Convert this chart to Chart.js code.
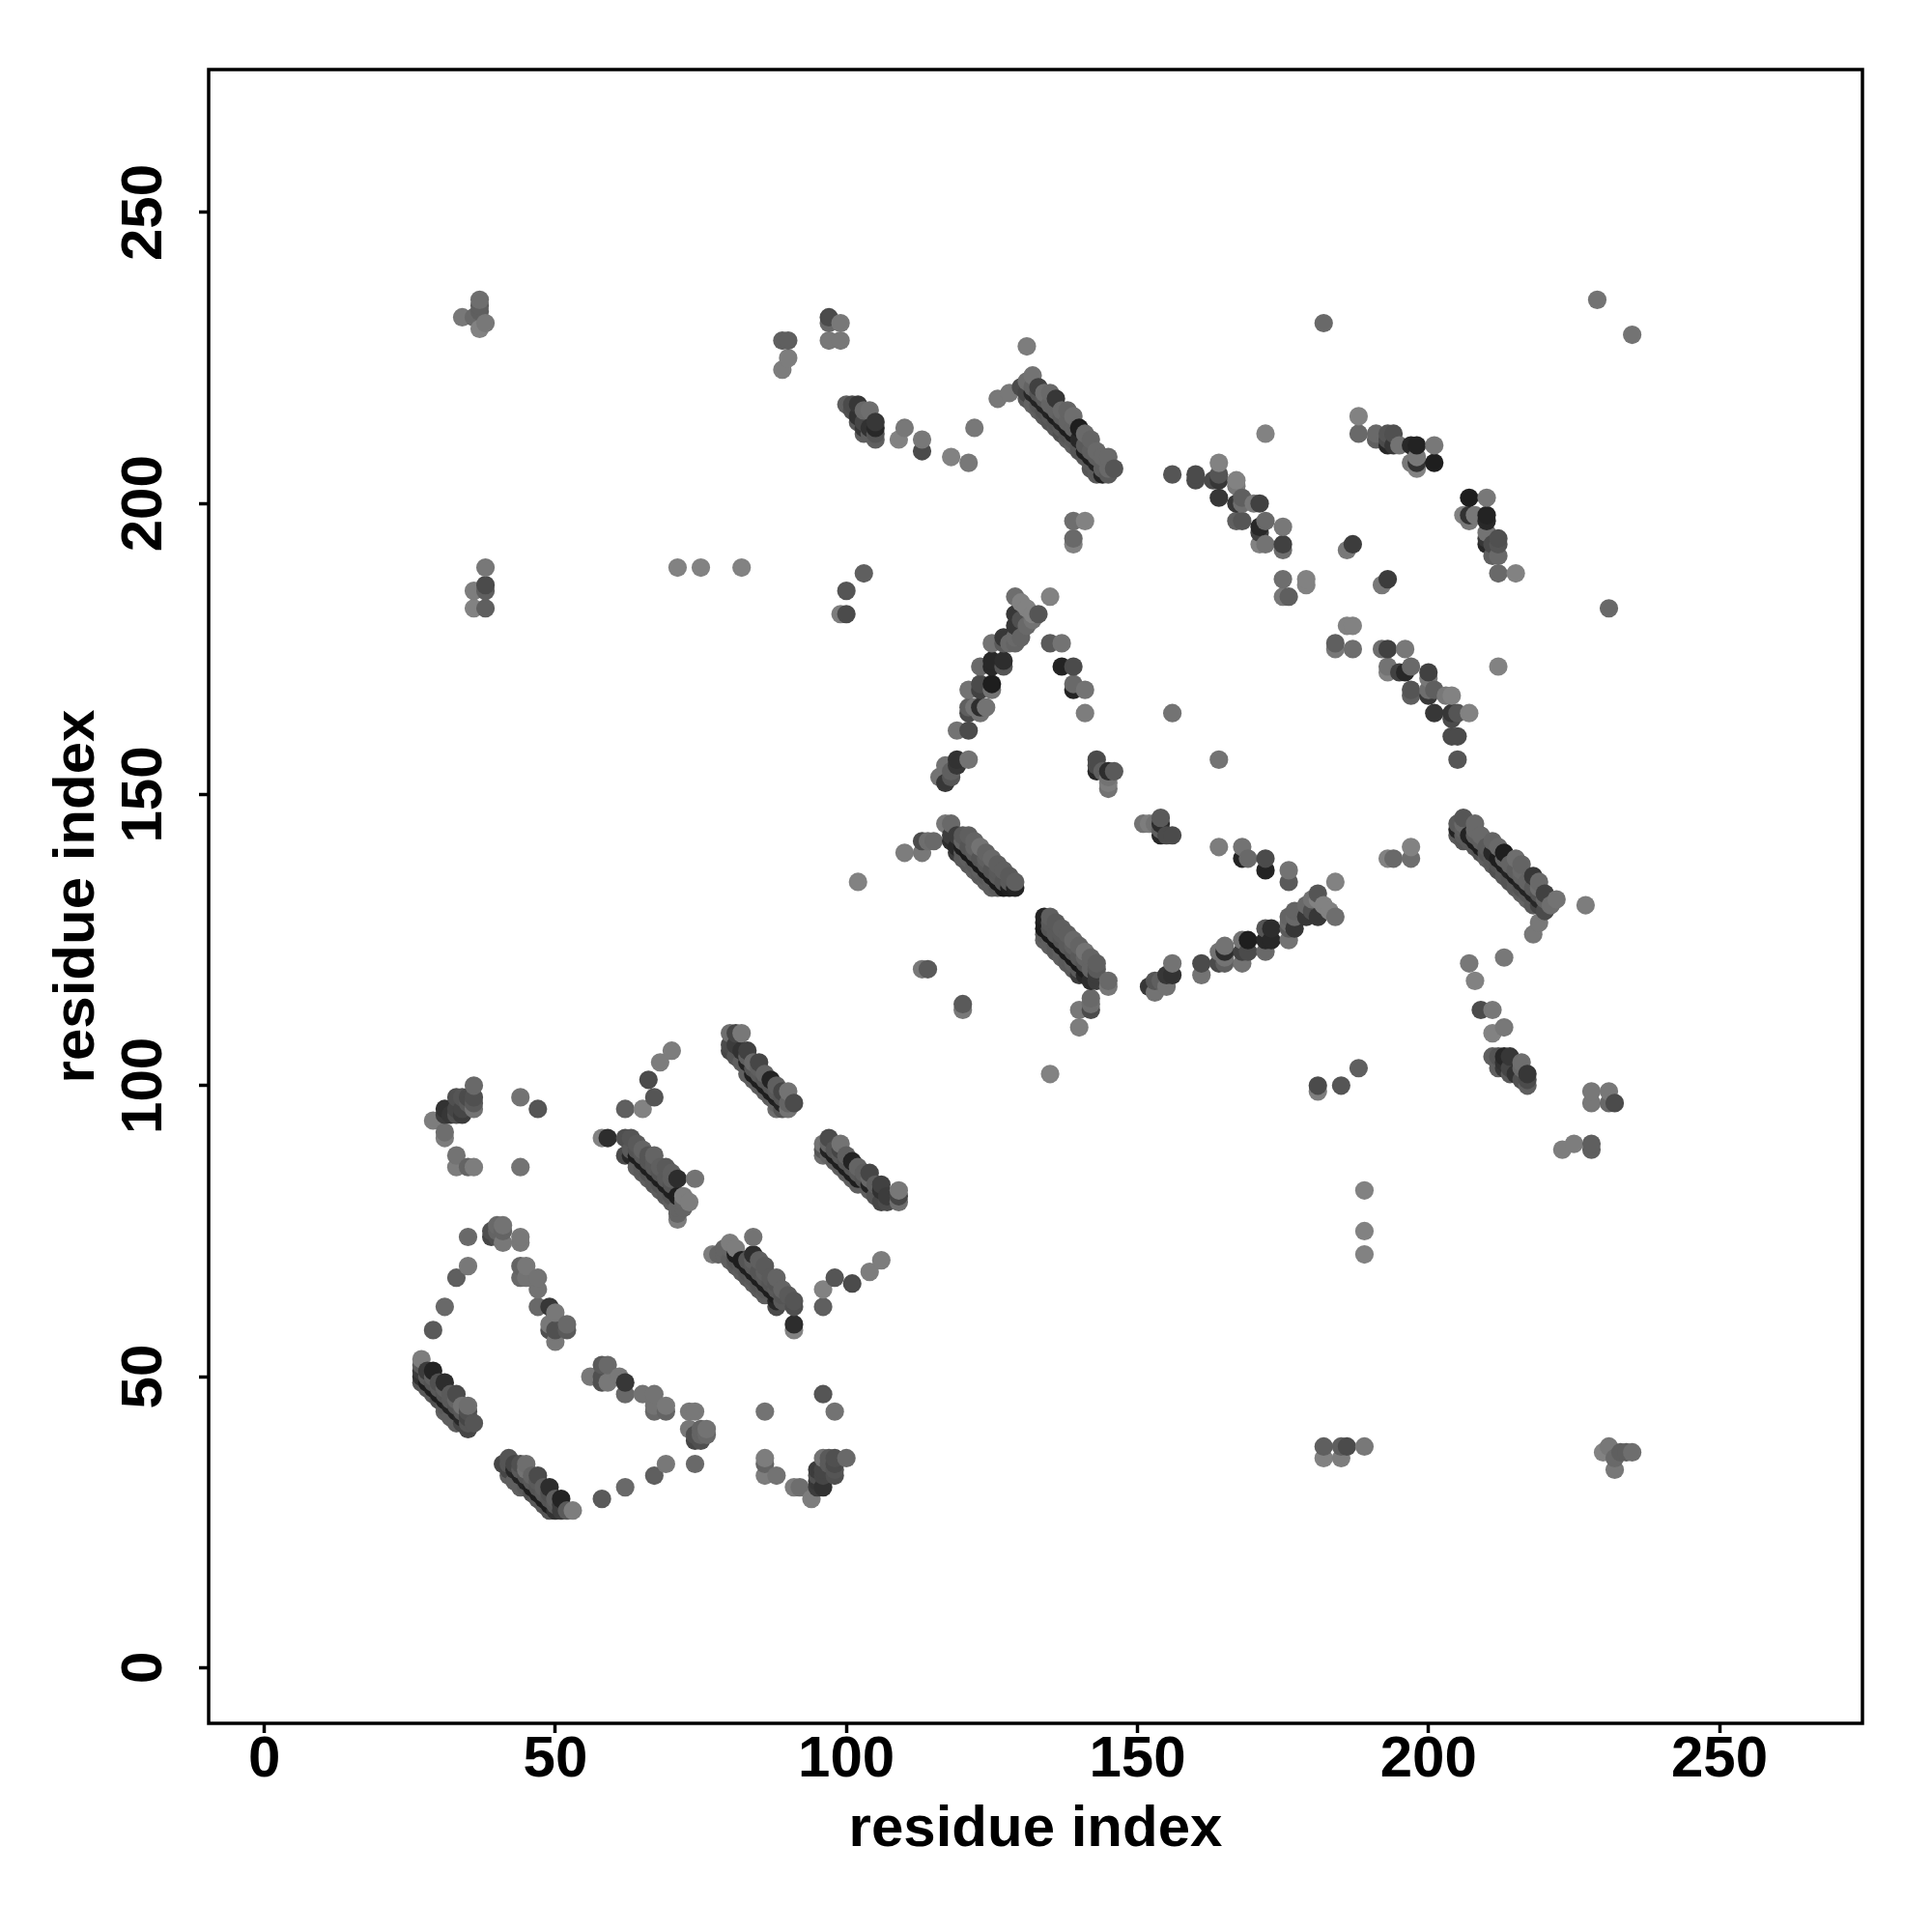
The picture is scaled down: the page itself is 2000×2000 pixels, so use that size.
<!DOCTYPE html>
<html><head><meta charset="utf-8">
<style>html,body{margin:0;padding:0;background:#fff}canvas{display:block}</style>
<script src="https://cdn.jsdelivr.net/npm/chart.js@4/dist/chart.umd.min.js"></script>
</head><body><canvas id="c" width="2000" height="2000"></canvas>
<script>
// Residue contact map: each contact is [residue i, residue j, grey level], read once
// from the picture; the map is symmetric, so each is plotted at (i,j) and (j,i).
const tickValues=[0,50,100,150,200,250];
const axisTitle="residue index";
const contactsA=[[41,35,70],[42,36,85],[42,35,85],[42,34,70],[42,33,95],[43,35,70],[43,34,40],[43,32,95],[44,35,80],[44,34,90],[44,33,35],[44,31,95],[45,35,110],[45,34,115],[45,33,85],[45,32,35],[45,31,90],[46,33,100],[46,32,90],[46,31,30],[46,30,80],[47,33,75],[47,32,90],[47,31,85],[47,30,30],[47,29,90],[48,31,95],[48,30,90],[48,29,30],[48,28,90],[49,31,45],[49,30,80],[49,29,85],[49,28,30],[49,27,85],[50,29,95],[50,28,90],[50,27,50],[51,29,35],[51,28,60],[51,27,60],[52,27,90],[53,27,125]];
const contactsB=[[29,94,125],[31,96,50],[31,95,60],[31,92,110],[31,91,125],[32,95,55],[33,98,80],[33,96,70],[33,95,80],[34,98,85],[34,96,70],[34,95,60],[35,98,75],[35,97,90],[36,100,105],[36,98,80],[36,97,90],[36,96,115],[33,88,115],[33,86,125],[35,86,100],[36,86,125],[44,98,115],[47,96,85],[44,86,115]];
const contactsC=[[35,74,105],[39,75,80],[39,74,70],[40,76,90],[40,74,100],[41,76,100],[41,75,100],[41,73,115],[44,74,115],[44,73,115],[35,69,115],[33,67,95],[31,62,105],[29,58,90],[44,69,90],[45,69,125],[44,67,105],[45,67,115],[47,67,125],[47,65,120],[47,62,115],[49,62,60],[50,61,105],[49,59,105],[49,58,105],[52,59,115],[50,58,90],[52,58,60],[50,56,115]];
const contactsD=[[56,50,120],[58,52,90],[58,50,80],[58,49,80],[59,52,105],[59,49,120],[62,49,55],[62,47,105],[61,50,120],[65,47,115],[67,47,115],[67,44,105],[69,45,120],[69,44,100],[73,44,120],[74,44,120],[73,41,120],[74,40,80],[75,40,100],[76,40,105],[76,41,115],[74,39,70],[75,39,80],[74,35,105],[69,35,120],[67,33,95],[62,31,105],[58,29,90]];
const contactsE=[[58,91,130],[59,91,45],[66,101,75],[68,104,125],[70,106,125],[67,98,85],[65,96,130],[62,96,95],[62,91,80],[62,88,75],[63,91,85],[63,89,90],[63,88,40],[64,90,90],[64,89,85],[64,88,30],[64,86,95],[65,89,100],[65,88,90],[65,87,30],[65,86,90],[65,85,90],[66,88,85],[66,87,85],[66,86,30],[66,85,85],[66,84,95],[67,88,100],[67,87,90],[67,86,90],[67,85,30],[67,84,90],[67,83,90],[68,86,95],[68,85,85],[68,84,30],[68,83,85],[68,82,95],[69,86,90],[69,84,90],[69,83,30],[69,82,90],[69,81,90],[70,85,95],[70,84,95],[70,83,85],[70,82,30],[70,81,85],[70,80,95],[71,84,45],[71,81,30],[71,79,100],[71,78,100],[71,77,125],[72,81,125],[72,80,100],[72,79,100],[73,80,125],[74,84,115]];
const contactsF=[[80,109,110],[80,107,75],[80,106,70],[81,109,70],[81,107,60],[81,105,85],[82,109,120],[82,106,50],[82,104,95],[83,106,65],[83,105,95],[83,104,35],[83,102,95],[84,104,105],[84,103,85],[84,102,30],[84,101,95],[85,104,70],[85,103,95],[85,102,90],[85,101,30],[85,100,95],[86,102,100],[86,101,85],[86,100,30],[86,99,95],[87,101,35],[87,100,85],[87,99,30],[87,98,95],[88,100,95],[88,99,90],[88,98,30],[88,97,100],[88,96,110],[89,99,70],[89,98,85],[89,97,35],[89,96,85],[90,99,115],[90,97,100],[90,96,115],[91,97,75]];
const contactsG=[[89,228,95],[90,228,95],[90,225,125],[89,223,125],[97,232,75],[97,231,105],[99,231,120],[97,228,120],[99,228,120],[229,235,115],[182,231,105],[34,232,120],[36,232,105],[37,235,110],[37,234,95],[37,233,95],[37,230,130],[38,231,120],[38,189,120],[36,185,125],[38,186,75],[38,185,95],[36,182,130],[38,182,95],[71,189,130],[75,189,130],[82,189,130],[103,188,95],[100,185,95],[99,181,130],[100,181,85],[102,135,130],[113,120,120],[114,120,95],[120,114,90],[120,113,120],[110,140,120],[113,140,120],[115,142,95],[114,142,110],[113,142,55]];
const contactsH=[[100,217,95],[101,217,75],[101,216,80],[102,217,55],[102,215,50],[102,214,90],[103,216,105],[103,214,70],[103,213,55],[103,212,95],[104,216,110],[104,213,50],[104,212,95],[105,214,55],[105,213,40],[105,212,85],[105,211,95],[109,211,130],[110,213,120],[113,211,120],[113,209,75],[118,208,130],[121,207,120],[122,213,120],[126,218,120],[128,219,120],[131,227,125]];
const contactsI=[[130,220,75],[131,221,110],[131,219,70],[131,218,90],[132,222,115],[132,220,100],[132,219,40],[132,217,100],[133,220,65],[133,219,85],[133,218,35],[133,217,90],[133,216,95],[134,219,110],[134,218,90],[134,217,35],[134,216,85],[134,215,90],[135,219,105],[135,217,100],[135,216,35],[135,215,90],[135,214,85],[136,218,55],[136,216,100],[136,215,30],[136,214,85],[136,213,90],[137,216,105],[137,215,95],[137,214,35],[137,213,90],[137,212,80],[138,216,100],[138,214,100],[138,213,30],[138,212,85],[138,211,90],[139,215,110],[139,213,100],[139,212,30],[139,211,90],[139,210,95],[140,213,30],[140,211,40],[140,210,85],[140,209,85],[141,212,105],[141,210,90],[141,209,30],[141,208,90],[142,211,100],[142,209,95],[142,208,30],[142,207,90],[142,206,85],[143,209,105],[143,208,95],[143,207,35],[143,206,90],[143,205,90],[144,208,105],[144,206,95],[144,205,35],[145,208,105],[145,206,105],[145,205,90],[146,206,85],[139,197,110],[141,197,130],[139,194,105],[139,193,130]];
const contactsJ=[[156,205,85],[160,205,75],[160,204,75],[163,204,75],[164,207,130],[164,205,85],[164,204,55],[164,201,55],[167,204,130],[167,203,120],[167,200,55],[168,201,95],[168,200,110],[170,200,120],[171,200,65],[167,197,95],[168,197,85],[171,196,40],[171,195,65],[172,197,105],[171,193,130],[172,193,115],[175,196,120],[175,193,65],[175,192,110],[175,187,110],[175,184,120],[176,184,95],[179,187,130],[179,186,130],[172,212,130],[186,192,120],[187,193,60]];
const contactsK=[[188,215,130],[188,212,105],[191,212,105],[191,211,95],[193,212,85],[193,211,75],[193,210,40],[194,212,80],[194,210,55],[195,210,115],[197,210,40],[198,210,35],[198,208,120],[197,207,120],[198,207,50],[198,206,130],[201,210,120],[201,207,30]];
const contactsL=[[129,184,110],[135,184,130],[130,183,130],[131,182,130],[132,181,130],[133,181,85],[129,181,55],[129,179,55],[130,180,80],[131,179,105],[132,180,115],[127,177,55],[129,177,105],[128,176,105],[130,177,100],[125,176,115],[127,176,90],[129,176,100],[123,172,105],[125,173,40],[125,172,40],[127,173,45],[127,172,85],[121,168,115],[123,169,75],[123,168,65],[125,169,30],[125,168,115],[121,165,95],[121,164,75],[122,165,115],[123,165,45],[123,164,115],[124,165,115],[119,161,115],[121,161,75],[121,156,115],[119,156,50],[119,155,55],[117,155,115],[118,154,95],[116,153,115],[117,152,55],[118,153,85],[135,176,90],[137,176,115],[137,172,35],[139,172,75],[139,169,105],[139,168,35],[141,168,115],[141,164,125],[143,156,75],[143,155,75],[143,154,40],[144,154,95],[145,154,45],[146,154,90],[145,153,115],[145,152,125],[145,151,115],[156,164,115]];
const contactsM=[[117,145,120],[118,145,105],[113,142,75],[115,142,105],[118,143,60],[118,142,45],[119,143,60],[119,141,40],[119,140,60],[120,143,90],[120,142,100],[120,141,30],[120,140,90],[120,139,90],[121,143,95],[121,141,85],[121,140,25],[121,139,95],[121,138,90],[122,142,100],[122,141,100],[122,140,90],[122,139,25],[122,138,90],[122,137,95],[123,141,115],[123,139,85],[123,138,25],[123,137,95],[123,136,90],[124,140,100],[124,139,95],[124,138,90],[124,137,25],[124,136,90],[124,135,95],[125,139,105],[125,137,85],[125,136,25],[125,135,95],[125,134,95],[126,138,95],[126,137,90],[126,136,90],[126,135,25],[126,134,90],[127,137,95],[127,135,85],[127,134,25],[128,136,90],[128,135,90],[128,134,30],[129,135,95],[129,134,35]];
const contactsN=[[140,110,125],[188,103,95],[181,100,75],[181,99,125],[185,100,85]];

function buildPoints(){
  const seen=new Map();
  [contactsA,contactsB,contactsC,contactsD,contactsE,contactsF,contactsG,contactsH,contactsI,contactsJ,contactsK,contactsL,contactsM,contactsN].forEach(group=>{
    group.forEach(([i,j,g])=>{seen.set(i+","+j,{x:i,y:j,g});seen.set(j+","+i,{x:j,y:i,g});});
  });
  return [...seen.values()].sort((a,b)=>a.x-b.x||a.y-b.y);
}
const points=buildPoints();
const INK="#000";
const FONT={family:"'Liberation Sans'",size:60,weight:"bold"};
const frame={id:"frame",afterDatasetsDraw(ch){const a=ch.chartArea,c=ch.ctx;c.save();c.strokeStyle=INK;c.lineWidth=3.5;c.strokeRect(a.left,a.top,a.right-a.left,a.bottom-a.top);c.restore();}};
new Chart(document.getElementById("c"),{
  type:"scatter",
  plugins:[frame],
  data:{datasets:[{data:points,pointRadius:9.6,pointHoverRadius:9.6,borderWidth:0,pointBorderWidth:0,
    pointBackgroundColor:points.map(p=>`rgb(${p.g},${p.g},${p.g})`)}]},
  options:{
    responsive:false,animation:false,devicePixelRatio:1,
    layout:{padding:{top:72,right:72,left:0,bottom:0}},
    plugins:{legend:{display:false},tooltip:{enabled:false}},
    scales:{
      x:{type:"linear",min:-9.56,max:274.56,
        afterBuildTicks:s=>{s.ticks=tickValues.map(v=>({value:v}));},
        afterFit:s=>{s.height=216;},
        grid:{drawOnChartArea:false,drawTicks:true,tickLength:10,tickWidth:3.5,tickColor:INK},
        border:{display:false},
        ticks:{color:INK,font:FONT,padding:-8,maxRotation:0,minRotation:0,autoSkip:false,callback:v=>String(v)},
        title:{display:true,text:axisTitle,color:INK,font:FONT,padding:{top:0,bottom:70}}},
      y:{type:"linear",min:-9.56,max:274.56,
        afterBuildTicks:s=>{s.ticks=tickValues.map(v=>({value:v}));},
        afterFit:s=>{s.width=216;},
        grid:{drawOnChartArea:false,drawTicks:true,tickLength:10,tickWidth:3.5,tickColor:INK},
        border:{display:false},
        ticks:{color:INK,font:FONT,padding:5,minRotation:90,maxRotation:90,crossAlign:"center",autoSkip:false,callback:v=>String(v)},
        title:{display:true,text:axisTitle,color:INK,font:FONT,padding:{top:44,bottom:0}}}
    }
  }
});
</script></body></html>
